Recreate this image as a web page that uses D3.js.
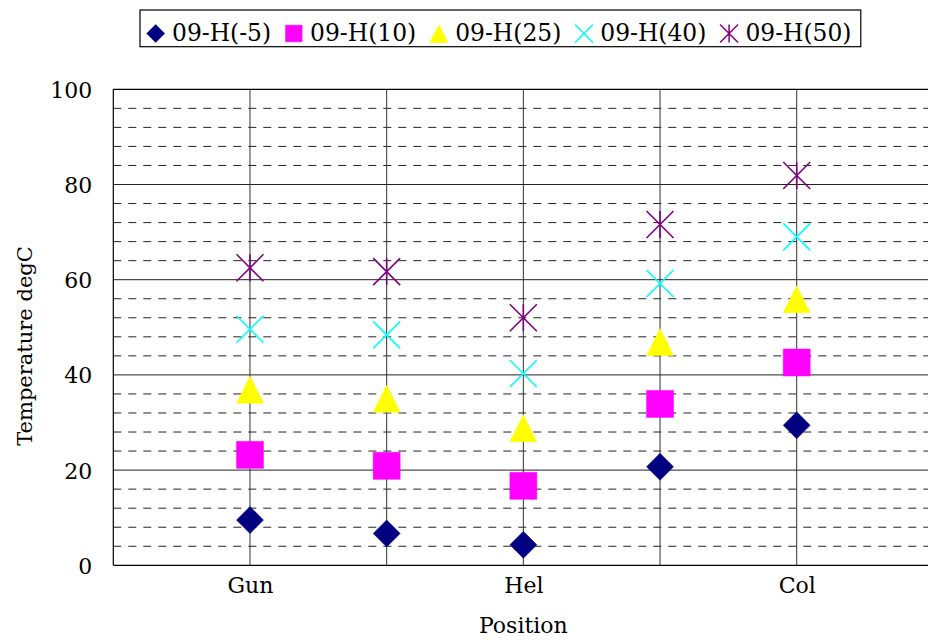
<!DOCTYPE html>
<html>
<head>
<meta charset="utf-8">
<script src="https://cdn.jsdelivr.net/npm/d3@7"></script>
<style>
  body { margin: 0; background: #fff; }
  svg text { fill: #000; }
</style>
</head>
<body>
<svg id="chart" width="928" height="640"></svg>
<script>
// Measurement positions along the rig (1..5); only three are named on the axis
const positions = [1, 2, 3, 4, 5];
const xTickValues = [1, 3, 5];
const xTickLabels = ["Gun", "Hel", "Col"];

// Temperatures (degC) per series, one value per position
const seriesNames = ["09-H(-5)", "09-H(10)", "09-H(25)", "09-H(40)", "09-H(50)"];
const tempM5 = [9.5, 6.7, 4.3, 20.7, 29.4];
const temp10 = [23.2, 20.9, 16.7, 33.9, 42.6];
const temp25 = [36.9, 35.0, 28.8, 46.9, 55.9];
const temp40 = [49.6, 48.4, 40.3, 59.2, 69.0];
const temp50 = [62.5, 61.7, 52.0, 71.6, 81.9];

const yTicks = [0, 20, 40, 60, 80, 100];
const seriesColors = ["#000080", "#ff00ff", "#ffff00", "#00ffff", "#800080"];
const seriesMarkers = ["diamond", "square", "triangle", "cross", "asterisk"];

const seriesValues = [tempM5, temp10, temp25, temp40, temp50];
const series = seriesNames.map((name, i) => ({
  name, color: seriesColors[i], marker: seriesMarkers[i],
  points: positions.map((p, j) => ({ x: p, y: seriesValues[i][j] }))
}));

const FONT = "DejaVu Serif";
const FS = 22;
const LEGEND_FS = 23.4;
const svg = d3.select("#chart");
const plot = { left: 113.3, right: 933.4, top: 89.3, bottom: 565.3 };

const x = d3.scaleLinear().domain([0, 6]).range([plot.left, plot.right]);
const y = d3.scaleLinear().domain([0, 100]).range([plot.bottom, plot.top]);

// Marker shapes, s = half of the box size
function markerPath(kind, s) {
  switch (kind) {
    case "diamond":  return `M0,${-s}L${s},0L0,${s}L${-s},0Z`;
    case "square":   return `M${-s},${-s}H${s}V${s}H${-s}Z`;
    case "triangle": return `M0,${-s}L${s},${s}L${-s},${s}Z`;
    case "cross":    return `M${-s},${-s}L${s},${s}M${s},${-s}L${-s},${s}`;
    case "asterisk": return `M${-s},${-s}L${s},${s}M${s},${-s}L${-s},${s}M0,${-s}V${s}`;
  }
}
const isStroked = k => k === "cross" || k === "asterisk";

// Grid: dashed minor lines every 4 degrees, solid major lines every 20
const minorTicks = d3.range(4, 100, 4).filter(v => v % 20 !== 0);
const grid = svg.append("g");
grid.selectAll("line.minor").data(minorTicks).join("line")
  .attr("x1", plot.left).attr("x2", plot.right)
  .attr("y1", d => y(d)).attr("y2", d => y(d))
  .attr("stroke", "#222").attr("stroke-width", 1)
  .attr("stroke-dasharray", "8,7");
grid.selectAll("line.major").data(yTicks.filter(v => v > 0 && v < 100)).join("line")
  .attr("x1", plot.left).attr("x2", plot.right)
  .attr("y1", d => y(d)).attr("y2", d => y(d))
  .attr("stroke", "#222").attr("stroke-width", 1);
grid.selectAll("line.vert").data(positions).join("line")
  .attr("x1", d => x(d)).attr("x2", d => x(d))
  .attr("y1", plot.top).attr("y2", plot.bottom)
  .attr("stroke", "#333").attr("stroke-width", 1);

// Frame
const frame = svg.append("g").attr("stroke", "#000").attr("stroke-width", 1.2).attr("fill", "none");
frame.append("line").attr("x1", plot.left).attr("x2", plot.left).attr("y1", plot.top).attr("y2", plot.bottom);
frame.append("line").attr("x1", plot.left).attr("x2", plot.right).attr("y1", plot.top).attr("y2", plot.top);
frame.append("line").attr("x1", plot.left).attr("x2", plot.right).attr("y1", plot.bottom).attr("y2", plot.bottom);

// Axes (labels only)
const yAxis = svg.append("g")
  .attr("transform", `translate(${plot.left},0)`)
  .call(d3.axisLeft(y).tickValues(yTicks).tickSize(0).tickPadding(21));
yAxis.attr("font-family", FONT).attr("font-size", FS);
yAxis.select(".domain").remove();
yAxis.selectAll("text").attr("dy", "0.36em");

const xAxis = svg.append("g")
  .attr("transform", `translate(0,${plot.bottom})`)
  .call(d3.axisBottom(x).tickValues(xTickValues).tickSize(0).tickPadding(11)
    .tickFormat((d, i) => xTickLabels[i]));
xAxis.attr("font-family", FONT).attr("font-size", FS);
xAxis.select(".domain").remove();
xAxis.selectAll("text").attr("dy", "0.76em");

// Axis titles
svg.append("text")
  .attr("x", (plot.left + plot.right) / 2).attr("y", 633)
  .attr("text-anchor", "middle").attr("font-family", FONT).attr("font-size", FS)
  .text("Position");
svg.append("text")
  .attr("transform", "translate(32,346) rotate(-90)")
  .attr("text-anchor", "middle").attr("font-family", FONT).attr("font-size", 21)
  .text("Temperature degC");

// Data markers
const marks = svg.append("g");
series.forEach(s => {
  marks.selectAll(null).data(s.points).join("path")
    .attr("transform", d => `translate(${x(d.x)},${y(d.y)})`)
    .attr("d", markerPath(s.marker, 13.5))
    .attr("fill", isStroked(s.marker) ? "none" : s.color)
    .attr("stroke", s.color)
    .attr("stroke-width", isStroked(s.marker) ? 1.6 : 0.5);
});

// Legend
const legend = svg.append("g");
const legendBox = legend.append("rect")
  .attr("fill", "#fff").attr("stroke", "#000").attr("stroke-width", 1.2);
let cursor = 140 + 15.7;
const legendMid = 33.5;
series.forEach((s, i) => {
  legend.append("path")
    .attr("transform", `translate(${cursor},${legendMid})`)
    .attr("d", markerPath(s.marker, s.marker === "square" ? 8.3 : 9))
    .attr("fill", isStroked(s.marker) ? "none" : s.color)
    .attr("stroke", s.color)
    .attr("stroke-width", isStroked(s.marker) ? 1.5 : 0.5);
  const t = legend.append("text")
    .attr("x", cursor + 16.3).attr("y", 41)
    .attr("font-family", FONT).attr("font-size", LEGEND_FS)
    .text(s.name);
  const w = t.node().getComputedTextLength();
  cursor = cursor + 16.3 + w + (i < series.length - 1 ? 22.7 : 0);
});
legendBox.attr("x", 140).attr("y", 10)
  .attr("width", cursor + 9.3 - 140).attr("height", 36.7);
</script>
</body>
</html>
